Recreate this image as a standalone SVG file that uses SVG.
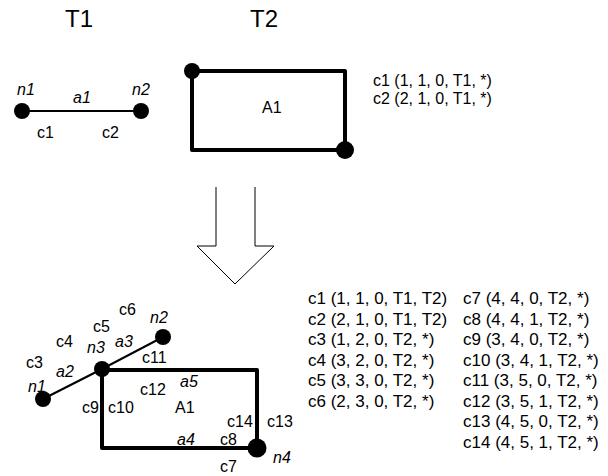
<svg xmlns="http://www.w3.org/2000/svg" width="608" height="476" viewBox="0 0 608 476">
<style>
text{font-family:"Liberation Sans",Arial,sans-serif;fill:#000}
.lbl{font-size:16px}
.it{font-size:16px;font-style:italic}
.ttl{font-size:24px;text-anchor:middle}
.lst{font-size:16px}
.lst2{font-size:17px}
.dot{fill:#000}
.thin{stroke:#000;stroke-width:2;fill:none}
.thick{stroke:#000;stroke-width:4;fill:none;stroke-linejoin:round;stroke-linecap:round}
.arr{stroke:#000;stroke-width:1;fill:#fff}
</style>
<rect width="608" height="476" fill="#fff"/>
<text class="ttl" x="79" y="27">T1</text>
<text class="ttl" x="264" y="27">T2</text>

<g id="connectors">
<line class="thin" x1="22" y1="111" x2="141" y2="111"/>
<polyline class="thick" points="192,71 345,71 345,150 192,150 192,71"/>
<line class="thin" x1="43" y1="399" x2="102" y2="369"/>
<line class="thin" x1="102" y1="369" x2="163" y2="337"/>
<polyline class="thick" points="102,370 257,370 257,448 102,448 102,370"/>
<polyline class="arr" points="216,187 216,246 197,246 235,284 274,246 255,246 255,187"/>
</g>

<g id="top-n1"><circle class="dot" cx="22" cy="111" r="8"/><text class="it" x="17" y="95">n1</text></g>
<g id="top-n2"><circle class="dot" cx="141" cy="111" r="8"/><text class="it" x="132" y="95">n2</text></g>
<g id="top-a1"><text class="it" x="73" y="103">a1</text><text class="lbl" x="37" y="138">c1</text><text class="lbl" x="102" y="138">c2</text></g>
<g id="top-A1"><circle class="dot" cx="192" cy="71" r="8"/><circle class="dot" cx="345" cy="150" r="9"/><text class="lbl" x="262" y="113">A1</text></g>
<g id="top-list">
<text class="lst" x="373" y="86">c1 (1, 1, 0, T1, *)</text>
<text class="lst" x="373" y="104">c2 (2, 1, 0, T1, *)</text>
</g>

<g id="n1"><circle class="dot" cx="43" cy="399" r="8"/><text class="it" x="28" y="392">n1</text></g>
<g id="n2"><circle class="dot" cx="163" cy="337" r="8"/><text class="it" x="150" y="323">n2</text></g>
<g id="n3"><circle class="dot" cx="102" cy="369" r="8"/><text class="it" x="87" y="353">n3</text></g>
<g id="n4"><circle class="dot" cx="257" cy="448" r="9.5"/><text class="it" x="273" y="463">n4</text></g>
<g id="a2"><text class="it" x="56" y="377">a2</text></g>
<g id="a3"><text class="it" x="115" y="347">a3</text></g>
<g id="a4"><text class="it" x="177" y="445">a4</text></g>
<g id="a5"><text class="it" x="180" y="387">a5</text></g>
<g id="A1"><text class="lbl" x="175" y="413">A1</text></g>
<g id="corners">
<text class="lbl" x="26" y="368">c3</text>
<text class="lbl" x="56" y="347">c4</text>
<text class="lbl" x="93" y="332">c5</text>
<text class="lbl" x="119" y="315">c6</text>
<text class="lbl" x="220" y="472">c7</text>
<text class="lbl" x="220" y="445">c8</text>
<text class="lbl" x="82" y="413">c9</text>
<text class="lbl" x="108" y="413">c10</text>
<text class="lbl" x="142" y="363">c11</text>
<text class="lbl" x="140" y="395">c12</text>
<text class="lbl" x="267" y="427">c13</text>
<text class="lbl" x="227" y="427">c14</text>
</g>
<g id="list-left">
<text class="lst2" x="308" y="304">c1 (1, 1, 0, T1, T2)</text>
<text class="lst2" x="308" y="324.5">c2 (2, 1, 0, T1, T2)</text>
<text class="lst2" x="308" y="345">c3 (1, 2, 0, T2, *)</text>
<text class="lst2" x="308" y="365.5">c4 (3, 2, 0, T2, *)</text>
<text class="lst2" x="308" y="386">c5 (3, 3, 0, T2, *)</text>
<text class="lst2" x="308" y="406.5">c6 (2, 3, 0, T2, *)</text>
</g>
<g id="list-right">
<text class="lst2" x="463" y="304">c7 (4, 4, 0, T2, *)</text>
<text class="lst2" x="463" y="324.5">c8 (4, 4, 1, T2, *)</text>
<text class="lst2" x="463" y="345">c9 (3, 4, 0, T2, *)</text>
<text class="lst2" x="463" y="365.5">c10 (3, 4, 1, T2, *)</text>
<text class="lst2" x="463" y="386">c11 (3, 5, 0, T2, *)</text>
<text class="lst2" x="463" y="406.5">c12 (3, 5, 1, T2, *)</text>
<text class="lst2" x="463" y="427">c13 (4, 5, 0, T2, *)</text>
<text class="lst2" x="463" y="447.5">c14 (4, 5, 1, T2, *)</text>
</g>
</svg>
